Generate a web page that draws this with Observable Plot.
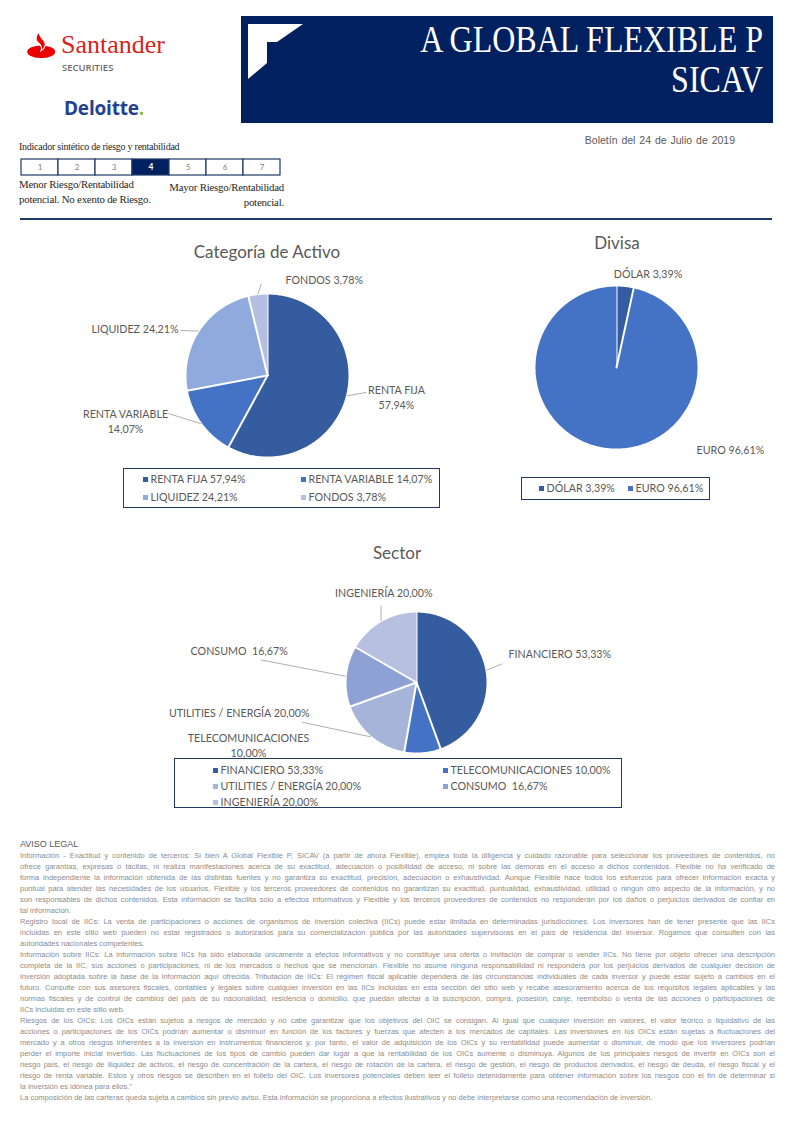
<!DOCTYPE html>
<html><head><meta charset="utf-8">
<script src="https://cdn.jsdelivr.net/npm/d3@7"></script>
<script src="https://cdn.jsdelivr.net/npm/@observablehq/plot@0.6"></script>
<style>
html,body{margin:0;padding:0;background:#fff}
body{width:794px;height:1122px;position:relative;overflow:hidden;font-family:"Liberation Sans",Arial,sans-serif}
.abs{position:absolute;white-space:nowrap}
.serif{font-family:"Liberation Serif","Times New Roman",serif}
.legend{position:absolute;border:1.5px solid #1f3864;box-sizing:border-box;font-family:Lato,sans-serif;font-size:10.7px;color:#595959}
.legend .it{position:absolute;white-space:pre;line-height:12px}
.legend .sw{display:inline-block;width:5px;height:5px;margin-right:3px;vertical-align:1px}
.legal{position:absolute;left:20px;width:755px;top:839px;color:#8c8c8c;font-size:7.5px}
.legal div{height:11px;line-height:11px;white-space:nowrap}
.legal .j{text-align:justify;text-align-last:justify}
.chart{position:absolute}
.ctitle{position:absolute;font-family:Lato,sans-serif;font-size:17px;color:#595959;transform:translateX(-50%);white-space:nowrap;line-height:20px}
</style></head><body>

<!-- logos -->
<svg class="abs" style="left:0;top:0" width="60" height="70">
  <ellipse cx="41.2" cy="51.8" rx="14" ry="6.3" fill="#ec0000"/>
  <path d="M39,32 C34.5,37 35.5,40.5 39,43.5 C41.5,45.8 42.2,48 41,50.8 C45.8,47.6 46.5,43.6 43.8,40.6 C41.6,38.2 39.4,36 39,32 Z" fill="#ec0000" stroke="#fff" stroke-width="1.1"/>
</svg>
<div class="abs serif" style="left:61px;top:31px;font-size:26px;line-height:28px;color:#d8231c">Santander</div>
<div class="abs" style="left:62px;top:62px;font-family:'Open Sans',sans-serif;font-weight:600;font-size:9.5px;line-height:12px;color:#6b6b6b">SECURITIES</div>
<div class="abs" style="left:64px;top:96px;font-family:'Open Sans',sans-serif;font-weight:700;font-size:19px;line-height:24px;color:#22408f;letter-spacing:-0.2px">Deloitte<span style="color:#86bc25">.</span></div>

<!-- header box -->
<svg class="abs" style="left:241px;top:16px" width="532" height="107">
  <rect width="532" height="107" fill="#002060"/>
  <path d="M7,8 L62,8 L36,26 L26,26 L26,47 L7,63 Z" fill="#fff"/>
</svg>
<div class="abs serif" style="right:31px;top:26px;font-size:32px;line-height:32px;color:#fff;transform:scaleY(1.2);transform-origin:100% 100%">A GLOBAL FLEXIBLE P</div>
<div class="abs serif" style="right:31px;top:66px;font-size:32px;line-height:32px;color:#fff;transform:scaleY(1.2);transform-origin:100% 100%">SICAV</div>
<div class="abs" style="right:59px;top:134px;font-size:10.5px;line-height:13px;color:#595959;word-spacing:1px">Boletín del 24 de Julio de 2019</div>

<!-- risk indicator -->
<div class="abs serif" style="left:19px;top:140px;font-size:10px;line-height:13px;color:#262626;letter-spacing:-0.25px">Indicador sintético de riesgo y rentabilidad</div>
<div id="risk" class="chart" style="left:19px;top:159px"></div>
<div class="abs serif" style="left:19px;top:177px;font-size:10.8px;line-height:14.5px;color:#262626;letter-spacing:-0.2px">Menor Riesgo/Rentabilidad<br>potencial. No exento de Riesgo.</div>
<div class="abs serif" style="right:510px;top:180px;font-size:10.8px;line-height:14.5px;color:#262626;letter-spacing:-0.2px;text-align:right">Mayor Riesgo/Rentabilidad<br>potencial.</div>
<div class="abs" style="left:20px;top:218px;width:752px;height:2px;background:#1f3864"></div>

<!-- charts -->
<div class="ctitle" style="left:267px;top:242px">Categoría de Activo</div>
<div id="cat" class="chart" style="left:80px;top:262px"></div>
<div id="catLeg" class="legend" style="left:123px;top:468px;width:317px;height:40px"></div>

<div class="ctitle" style="left:617px;top:233px">Divisa</div>
<div id="div" class="chart" style="left:500px;top:262px"></div>
<div id="divLeg" class="legend" style="left:521px;top:477px;width:189px;height:23px"></div>

<div class="ctitle" style="left:397px;top:543px">Sector</div>
<div id="sec" class="chart" style="left:160px;top:575px"></div>
<div id="secLeg" class="legend" style="left:174px;top:758px;width:448px;height:50px"></div>

<div id="legal" class="legal"></div>

<script>
// ---------------- data ----------------
const riskLevels = [1, 2, 3, 4, 5, 6, 7];
const riskValue = 4;

const catNames  = ["RENTA FIJA", "RENTA VARIABLE", "LIQUIDEZ", "FONDOS"];
const catValues = [57.94, 14.07, 24.21, 3.78];
const catColors = ["#345c9f", "#4472c4", "#8faadc", "#b4bfe1"];

const divNames  = ["DÓLAR", "EURO"];
const divValues = [3.39, 96.61];
const divColors = ["#345c9f", "#4472c4"];

const secNames  = ["FINANCIERO", "TELECOMUNICACIONES", "UTILITIES / ENERGÍA", "CONSUMO ", "INGENIERÍA"];
const secValues = [53.33, 10.00, 20.00, 16.67, 20.00];
const secColors = ["#345c9f", "#4472c4", "#a7b4d9", "#8ea1d4", "#b7c0e0"];

const legalTitle = "AVISO LEGAL";
const legalLines = [
 ["Información - Exactitud y contenido de terceros: Si bien A Global Flexible P, SICAV (a partir de ahora Flexible), emplea toda la diligencia y cuidado razonable para seleccionar los proveedores de contenidos, no", 1],
 ["ofrece garantías, expresas o tácitas, ni realiza manifestaciones acerca de su exactitud, adecuación o posibilidad de acceso, ni sobre las demoras en el acceso a dichos contenidos. Flexible no ha verificado de", 1],
 ["forma independiente la información obtenida de las distintas fuentes y no garantiza su exactitud, precisión, adecuación o exhaustividad. Aunque Flexible hace todos los esfuerzos para ofrecer información exacta y", 1],
 ["puntual para atender las necesidades de los usuarios, Flexible y los terceros proveedores de contenidos no garantizan su exactitud, puntualidad, exhaustividad, utilidad o ningún otro aspecto de la información, y no", 1],
 ["son responsables de dichos contenidos. Esta información se facilita sólo a efectos informativos y Flexible y los terceros proveedores de contenidos no responderán por los daños o perjuicios derivados de confiar en", 1],
 ["tal información.", 0],
 ["Registro local de IICs: La venta de participaciones o acciones de organismos de inversión colectiva (IICs) puede estar limitada en determinadas jurisdicciones. Los inversores han de tener presente que las IICs", 1],
 ["incluidas en este sitio web pueden no estar registrados o autorizados para su comercialización pública por las autoridades supervisoras en el país de residencia del inversor. Rogamos que consulten con las", 1],
 ["autoridades  nacionales  competentes.", 0],
 ["Información sobre IICs: La información sobre IICs ha sido elaborada únicamente a efectos informativos y no constituye una oferta o invitación de comprar o vender IICs. No tiene por objeto ofrecer una descripción", 1],
 ["completa de la IIC, sus acciones o participaciones, ni de los mercados o hechos que se mencionan. Flexible no asume ninguna responsabilidad ni responderá por los perjuicios derivados de cualquier decisión de", 1],
 ["inversión adoptada sobre la base de la información aquí ofrecida. Tributación de IICs: El régimen fiscal aplicable dependerá de las circunstancias individuales de cada inversor y puede estar sujeto a cambios en el", 1],
 ["futuro. Consulte con sus asesores fiscales, contables y legales sobre cualquier inversión en las IICs incluidas en esta sección del sitio web y recabe asesoramiento acerca de los requisitos legales aplicables y las", 1],
 ["normas fiscales y de control de cambios del país de su nacionalidad, residencia o domicilio, que puedan afectar a la suscripción, compra, posesión, canje, reembolso o venta de las acciones o participaciones de", 1],
 ["IICs incluidas  en este sitio web.", 0],
 ["Riesgos de los OICs: Los OICs están sujetos a riesgos de mercado y no cabe garantizar que los objetivos del OIC se consigan. Al igual que cualquier inversión en valores, el valor teórico o liquidativo de las", 1],
 ["acciones o participaciones de los OICs podrían aumentar o disminuir en función de los factores y fuerzas que afecten a los mercados de capitales. Las inversiones en los OICs están sujetas a fluctuaciones del", 1],
 ["mercado y a otros riesgos inherentes a la inversión en instrumentos financieros y, por tanto, el valor de adquisición de los OICs y su rentabilidad puede aumentar o disminuir, de modo que los inversores podrían", 1],
 ["perder el importe inicial invertido. Las fluctuaciones de los tipos de cambio pueden dar lugar a que la rentabilidad de los OICs aumente o disminuya. Algunos de los principales riesgos de invertir en OICs son el", 1],
 ["riesgo país, el riesgo de iliquidez de activos, el riesgo de concentración de la cartera, el riesgo de rotación de la cartera, el riesgo de gestión, el riesgo de productos derivados, el riesgo de deuda, el riesgo fiscal y el", 1],
 ["riesgo de renta variable. Estos y otros riesgos se describen en el folleto del OIC. Los inversores potenciales deben leer el folleto detenidamente para obtener información sobre los riesgos con el fin de determinar si", 1],
 ["la inversión  es idónea para ellos.\"", 0],
 ["La composición de las carteras queda  sujeta a cambios sin previo aviso. Esta información se proporciona a efectos ilustrativos y no debe interpretarse como una recomendación  de inversión.", 0]
];

// ---------------- layout (label nudges in px from slice edge) ----------------
const catLayout = {
  "RENTA FIJA":     {anchor: "middle", dx: 49.5, dy: 0.7,  lx: 19.5, ly: -3.3},
  "RENTA VARIABLE": {anchor: "middle", dx: -75.7, dy: -3.2, lx: -32.7, ly: -10.2},
  "LIQUIDEZ":       {anchor: "end",    dx: -20,  dy: -2.6, lx: -18, ly: -0.6},
  "FONDOS":         {anchor: "start",  dx: 27.7, dy: -14.6, lx: 3.7, ly: -10.6}
};
const divLayout = {
  "DÓLAR": {anchor: "middle", dx: 22.8, dy: -12.5},
  "EURO":  {anchor: "start",  dx: 88.7, dy: 0.5}
};
const secLayout = {
  "FINANCIERO":          {anchor: "start",  dx: 22.1, dy: -16.7, lx: 16.1, ly: -6.4},
  "TELECOMUNICACIONES":  {anchor: "middle", dx: -174.2, dy: -8.7},
  "UTILITIES / ENERGÍA": {anchor: "end",    dx: -61.4, dy: -24.7, lx: -68.7, ly: -14.7},
  "CONSUMO ":            {anchor: "middle", dx: -106.6, dy: -26.5, lx: -85.3, ly: -16.5},
  "INGENIERÍA":          {anchor: "middle", dx: 2.8, dy: -28.8, lx: 0, ly: -15.5}
};
const wrapLabels = ["RENTA FIJA", "RENTA VARIABLE", "TELECOMUNICACIONES"];

const fmt = v => d3.format(".2f")(v).replace(".", ",") + "%";
const LABEL = "#595959";

function piePlot({names, values, colors, width, height, cx, cy, r, layout}) {
  const arcs = d3.pie().sort(null).value(d => d)(values);
  const poly = [];
  arcs.forEach((a, i) => {
    const n = Math.max(6, Math.ceil((a.endAngle - a.startAngle) / 0.015));
    poly.push({name: names[i], x: 0, y: 0});
    for (let j = 0; j <= n; j++) {
      const t = a.startAngle + (a.endAngle - a.startAngle) * j / n;
      poly.push({name: names[i], x: Math.sin(t), y: -Math.cos(t)});
    }
  });
  const labs = arcs.map((a, i) => {
    const m = (a.startAngle + a.endAngle) / 2;
    const L = layout[names[i]];
    const ex = Math.sin(m), ey = -Math.cos(m);
    const text = wrapLabels.includes(names[i]) ? names[i] + "\n" + fmt(values[i]) : names[i] + " " + fmt(values[i]);
    return {name: names[i], text, ex, ey, ...L};
  });
  const textMark = anchor => Plot.text(labs.filter(d => d.anchor === anchor), {
    x: d => d.ex + d.dx / r, y: d => d.ey + d.dy / r, text: "text",
    textAnchor: anchor, fill: LABEL, fontSize: 10.7, lineHeight: 1.38, fontFamily: "Lato, sans-serif"
  });
  return Plot.plot({
    width, height, margin: 0,
    x: {domain: [-cx / r, (width - cx) / r], range: [0, width], axis: null},
    y: {domain: [-cy / r, (height - cy) / r], range: [0, height], axis: null},
    color: {domain: names, range: colors},
    style: {fontFamily: "Lato, sans-serif", overflow: "visible", background: "transparent"},
    marks: [
      Plot.line(poly, {x: "x", y: "y", z: "name", fill: "name", stroke: "white", strokeWidth: 2, strokeLinejoin: "miter", curve: "linear"}),
      Plot.link(labs.filter(d => d.lx != null), {
        x1: "ex", y1: "ey", x2: d => d.ex + d.lx / r, y2: d => d.ey + d.ly / r,
        stroke: "#a6a6a6", strokeWidth: 0.9
      }),
      textMark("start"), textMark("middle"), textMark("end")
    ]
  });
}

document.getElementById("cat").append(piePlot({
  names: catNames, values: catValues, colors: catColors,
  width: 380, height: 200, cx: 187, cy: 113, r: 82, layout: catLayout
}));
document.getElementById("div").append(piePlot({
  names: divNames, values: divValues, colors: divColors,
  width: 290, height: 200, cx: 116, cy: 105, r: 82, layout: divLayout
}));
document.getElementById("sec").append(piePlot({
  names: secNames, values: secValues, colors: secColors,
  width: 470, height: 185, cx: 256, cy: 107, r: 71, layout: secLayout
}));

// legends
function legend(id, names, values, colors, cols, rowTop, rowGap) {
  const el = document.getElementById(id);
  names.forEach((n, i) => {
    const it = document.createElement("div");
    it.className = "it";
    it.style.left = cols[i % cols.length] + "px";
    it.style.top = (rowTop + Math.floor(i / cols.length) * rowGap) + "px";
    const sw = document.createElement("span");
    sw.className = "sw"; sw.style.background = colors[i];
    it.append(sw, document.createTextNode(n + " " + fmt(values[i])));
    el.append(it);
  });
}
legend("catLeg", catNames, catValues, catColors, [18.5, 176.5], 4, 18);
legend("divLeg", divNames, divValues, divColors, [16.5, 105.5], 3.5, 0);
legend("secLeg", secNames, secValues, secColors, [37.5, 267.5], 4.5, 16);

// risk scale
document.getElementById("risk").append(Plot.plot({
  width: 263, height: 16, margin: 0,
  x: {type: "band", domain: riskLevels, padding: 0, axis: null},
  style: {overflow: "visible", background: "transparent"},
  marks: [
    Plot.cell(riskLevels, {x: d => d, fill: d => d === riskValue ? "#002060" : "#ffffff", stroke: "#1f3864", strokeWidth: 1.2}),
    Plot.text(riskLevels.filter(d => d !== riskValue), {x: d => d, text: d => String(d), fill: "#7f7f7f", fontSize: 8, fontFamily: "Lato, sans-serif"}),
    Plot.text(riskLevels.filter(d => d === riskValue), {x: d => d, text: d => String(d), fill: "#ffffff", fontSize: 8.5, fontWeight: "bold", fontFamily: "Lato, sans-serif"})
  ]
}));

// legal text
const legal = document.getElementById("legal");
const t = document.createElement("div");
t.textContent = legalTitle; t.style.fontSize = "9px"; t.style.color = "#595959";
legal.append(t);
legalLines.forEach(([s, j]) => {
  const d = document.createElement("div");
  d.textContent = s;
  if (j) d.className = "j";
  legal.append(d);
});
</script>
</body></html>
